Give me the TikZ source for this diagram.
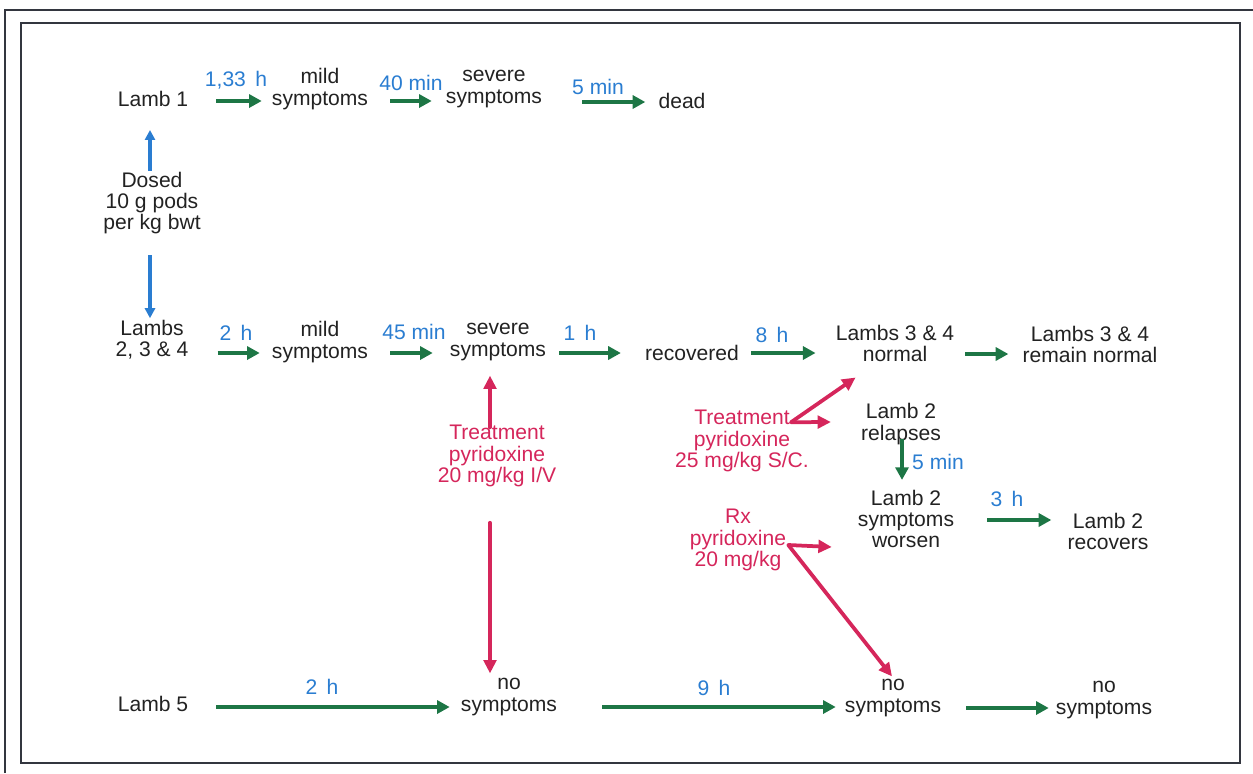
\documentclass[tikz,border=0pt]{standalone}
\usepackage{fontspec}
\setmainfont{Liberation Sans}
\usetikzlibrary{arrows.meta,calc}
\definecolor{lambInk}{HTML}{222222}
\definecolor{lambGreen}{HTML}{1D7645}
\definecolor{lambBlue}{HTML}{2A7DD1}
\definecolor{lambRed}{HTML}{D5265B}
\definecolor{frameInk}{HTML}{33363F}

\begin{document}
\begin{tikzpicture}[x=0.03cm,y=-0.03cm,
    txt/.style={inner sep=0pt,align=center,text=lambInk,font=\fontsize{18}{18}\selectfont},
    tlbl/.style={inner sep=0pt,text=lambBlue,font=\fontsize{18}{18}\selectfont},
    rtxt/.style={inner sep=0pt,align=center,text=lambRed,font=\fontsize{18}{18}\selectfont},
    garr/.style={lambGreen,line width=4pt,-{Triangle[length=3.8mm,width=3.9mm]}},
    barr/.style={lambBlue,line width=2.8pt,-{Triangle[length=3mm,width=3mm]}},
    rarr/.style={lambRed,line width=3.2pt,line cap=round,-{Triangle[length=4mm,width=3.8mm]}}]
  \useasboundingbox (0,0) rectangle (1253,773);
  % frame
  \draw[frameInk,line width=1.6pt] (5,773) -- (5,10) -- (1253,10);
  \draw[frameInk,line width=1.8pt] (21,23) rectangle (1240,763);

  % lamb 1
  \node[txt] (lamb1) at (153,99) {Lamb 1};
  \node[txt] (mild1) at (320,89) {mild\\symptoms};
  \node[txt] (sev1) at (494,89) {severe\\symptoms};
  \node[txt] (dead) at (682,101) {dead};
  \node[txt] (dosed) at (152,203) {Dosed\\10 g pods\\per kg bwt};

  % lambs 2, 3 and 4
  \node[txt] (lambs) at (152,340) {Lambs\\2, 3 \& 4};
  \node[txt] (mild2) at (320,342) {mild\\symptoms};
  \node[txt] (sev2) at (498,342) {severe\\symptoms};
  \node[txt] (rec) at (692,353) {recovered};
  \node[txt] (norm) at (895,343) {Lambs 3 \& 4\\normal};
  \node[txt] (remain) at (1090,344) {Lambs 3 \& 4\\remain normal};
  \node[txt] (relapse) at (901,424) {Lamb 2\\relapses};
  \node[txt] (worsen) at (906,519) {Lamb 2\\symptoms\\worsen};
  \node[txt] (recov) at (1108,531) {Lamb 2\\recovers};

  % treatments
  \node[rtxt] (ivtreat) at (497,456) {Treatment\\pyridoxine\\20 mg/kg I/V};
  \node[rtxt] (sctreat) at (742,441) {Treatment\\pyridoxine\\25 mg/kg S/C.};
  \node[rtxt] (rx) at (738,540) {Rx\\pyridoxine\\20 mg/kg};
  \coordinate (scfork) at ($(sctreat.north east)+(-18,12)$);
  \coordinate (rxfork) at ($(rx.east)+(2,5)$);

  % lamb 5
  \node[txt] (lamb5) at (153,704) {Lamb 5};
  \node[txt] (nos1) at (509,697) {no\\symptoms};
  \node[txt] (nos2) at (893,698) {no\\symptoms};
  \node[txt] (nos3) at (1104,700) {no\\symptoms};

  % times
  \node[tlbl] (t1) at (236,80) {1,33\,\ h};
  \node[tlbl] (t2) at (411,83) {40 min};
  \node[tlbl] (t3) at (598,87) {5 min};
  \node[tlbl] (t4) at (236,333) {2\,\ h};
  \node[tlbl] (t5) at (414,332) {45 min};
  \node[tlbl] (t6) at (580,333) {1\,\ h};
  \node[tlbl] (t7) at (772,335) {8\,\ h};
  \node[tlbl] (t8) at (938,462) {5 min};
  \node[tlbl] (t9) at (1007,499) {3\,\ h};
  \node[tlbl] (t10) at (322,687) {2\,\ h};
  \node[tlbl] (t11) at (714,688) {9\,\ h};

  % dosing
  \draw[barr] ($(dosed.north)+(-2,-1)$) -- ($(dosed.north |- lamb1.south)+(-2,23)$);
  \draw[barr] ($(dosed.south)+(-2,21)$) -- ($(dosed.south |- lambs.north)+(-2,-2)$);

  % row 1
  \draw[garr] ($(lamb1.east)+(28,2)$) -- ($(mild1.west |- lamb1.east)+(-10,2)$);
  \draw[garr] ($(mild1.east |- lamb1.east)+(22,2)$) -- ($(sev1.west |- lamb1.east)+(-14,2)$);
  \draw[garr] ($(sev1.east |- lamb1.east)+(40,3)$) -- ($(dead.west)+(-13,1)$);

  % row 2
  \draw[garr] ($(lambs.east |- rec.west)+(29,0)$) -- ($(mild2.west |- rec.west)+(-12,0)$);
  \draw[garr] ($(mild2.east |- rec.west)+(22,0)$) -- ($(sev2.west |- rec.west)+(-17,0)$);
  \draw[garr] ($(sev2.east |- rec.west)+(13,0)$) -- ($(rec.west)+(-24,0)$);
  \draw[garr] ($(rec.east)+(12,0)$) -- ($(norm.west |- rec.east)+(-20,0)$);
  \draw[garr] ($(norm.east |- rec.east)+(11,1)$) -- ($(remain.west |- rec.east)+(-14,1)$);
  \draw[garr] ($(relapse.south)+(1,-6)$) -- ($(relapse.south |- worsen.north)+(1,-10)$);
  \draw[garr] ($(worsen.east)+(33,1)$) -- ($(recov.west |- worsen.east)+(-16,1)$);

  % treatment arrows
  \draw[rarr] ($(ivtreat.north)+(-7,2)$) -- ($(ivtreat.north |- sev2.south)+(-7,15)$);
  \draw[rarr] ($(ivtreat.south)+(-7,36)$) -- ($(ivtreat.south |- nos1.north)+(-7,-5)$);
  \draw[rarr] (scfork) -- ($(norm.south west)+(20,16)$);
  \draw[rarr] (scfork) -- ($(relapse.west)+(-30,-2)$);
  \draw[rarr] (rxfork) -- ($(worsen.west)+(-26,28)$);
  \draw[rarr] (rxfork) -- ($(nos2.north)+(-1,-3)$);

  % row 3
  \draw[garr] ($(lamb5.east)+(28,3)$) -- ($(nos1.west |- lamb5.east)+(-11,3)$);
  \draw[garr] ($(nos1.east |- lamb5.east)+(45,3)$) -- ($(nos2.west |- lamb5.east)+(-9,3)$);
  \draw[garr] ($(nos2.east |- lamb5.east)+(25,4)$) -- ($(nos3.west |- lamb5.east)+(-7,4)$);
\end{tikzpicture}
\end{document}
